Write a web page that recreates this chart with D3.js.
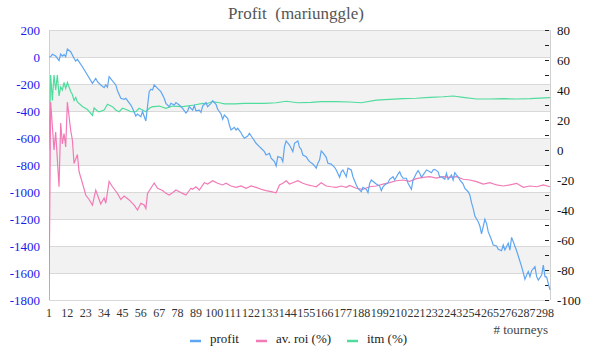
<!DOCTYPE html>
<html><head><meta charset="utf-8">
<script src="https://cdn.jsdelivr.net/npm/d3@7"></script>
<style>body{margin:0;background:#fff}svg{display:block}</style>
</head><body>
<svg id="c" width="600" height="360"></svg>
<script>
const title = "Profit  (mariunggle)";
const xTicks = [1,12,23,34,45,56,67,78,89,100,111,122,133,144,155,166,177,188,199,210,221,232,243,254,265,276,287,298];
const leftTicks = [200,0,-200,-400,-600,-800,-1000,-1200,-1400,-1600,-1800];
const rightTicks = [80,60,40,20,0,-20,-40,-60,-80,-100];
const seriesNames = ["profit","av. roi (%)","itm (%)"];

const profit = [[1,0],[2,2],[3,20],[5,7],[7,-27],[8,22],[9,7],[10,17],[11,2],[12,59],[14,39],[16,-10],[17,-30],[18,-17],[21,-72],[24,-133],[27,-195],[29,-158],[30,-183],[32,-207],[34,-227],[35,-207],[36,-224],[37,-146],[39,-176],[41,-207],[42,-250],[44,-306],[46,-313],[47,-306],[50,-356],[51,-380],[53,-437],[54,-422],[56,-442],[57,-405],[59,-474],[61,-257],[62,-239],[63,-244],[64,-207],[66,-232],[68,-257],[70,-306],[71,-343],[73,-368],[74,-343],[76,-356],[77,-338],[79,-356],[81,-380],[83,-415],[84,-400],[85,-368],[87,-393],[88,-360],[89,-398],[91,-393],[92,-410],[93,-363],[95,-338],[96,-368],[98,-343],[99,-324],[101,-350],[102,-387],[104,-422],[105,-461],[106,-430],[108,-454],[109,-504],[110,-541],[112,-521],[113,-541],[114,-528],[116,-561],[117,-585],[118,-602],[120,-585],[121,-565],[123,-602],[125,-639],[127,-664],[128,-676],[130,-701],[131,-726],[133,-713],[134,-750],[136,-775],[137,-807],[138,-738],[140,-746],[141,-775],[142,-664],[143,-622],[145,-652],[146,-676],[147,-701],[148,-639],[150,-622],[151,-669],[152,-684],[153,-726],[155,-738],[156,-758],[157,-775],[159,-793],[160,-807],[161,-824],[162,-787],[163,-763],[164,-696],[165,-709],[167,-743],[168,-787],[170,-793],[172,-817],[173,-837],[175,-891],[176,-850],[177,-837],[179,-887],[180,-824],[182,-837],[183,-887],[185,-948],[186,-973],[188,-998],[189,-965],[191,-980],[192,-1005],[193,-936],[194,-911],[196,-931],[197,-941],[199,-956],[200,-990],[201,-961],[202,-948],[204,-931],[205,-906],[207,-887],[208,-911],[210,-867],[211,-850],[212,-881],[213,-898],[215,-898],[216,-935],[218,-980],[219,-911],[221,-861],[222,-842],[223,-861],[224,-891],[226,-857],[227,-837],[228,-842],[230,-857],[231,-837],[232,-832],[234,-850],[235,-891],[236,-887],[238,-906],[239,-861],[240,-906],[242,-874],[243,-911],[244,-857],[245,-874],[246,-887],[247,-911],[249,-941],[250,-973],[252,-998],[253,-1022],[254,-1079],[255,-1121],[256,-1178],[258,-1220],[259,-1252],[260,-1311],[262,-1202],[263,-1232],[264,-1294],[266,-1356],[267,-1393],[269,-1400],[270,-1424],[272,-1435],[273,-1393],[274,-1430],[276,-1380],[277,-1430],[278,-1336],[279,-1368],[281,-1435],[282,-1474],[284,-1553],[285,-1598],[286,-1647],[287,-1615],[288,-1590],[289,-1627],[290,-1583],[292,-1553],[293,-1627],[294,-1652],[296,-1615],[297,-1541],[298,-1627],[299,-1630],[300,-1680],[301,-1725]];

const roi = [[1,-100],[2,32],[4,0],[5,12],[7,-24.5],[8,18],[9,4],[10,11],[11,2],[12,32],[14,13],[15,6.7],[16,-9],[18,-3],[19,-14.5],[21,-22],[23,-30],[25,-33],[27,-36.7],[29,-26.7],[31,-33],[32,-36],[34,-32],[35,-35.5],[37,-21],[39,-24.5],[42,-29],[44,-33],[46,-30.7],[49,-33.3],[52,-36.7],[54,-40],[56,-35.5],[58,-36.7],[59,-39],[60,-29],[62,-25.5],[64,-22],[66,-25.5],[69,-27],[71,-28.9],[73,-30],[75,-28.5],[77,-26.7],[79,-27.8],[81,-28.9],[83,-30],[84,-28.5],[86,-25.5],[87,-26.2],[89,-24.5],[91,-26.7],[94,-21.8],[96,-22.7],[99,-20.5],[102,-22.2],[105,-23.3],[107,-22.2],[110,-24],[113,-24.9],[116,-24],[119,-25.5],[122,-24],[125,-24.9],[128,-26.2],[131,-27.1],[134,-27.8],[137,-28.5],[139,-23.3],[141,-22.2],[143,-20.5],[145,-22.7],[147,-21.8],[150,-20.5],[153,-22.2],[156,-23.3],[159,-24],[161,-24.5],[164,-21.8],[167,-24],[170,-24.5],[173,-24.9],[176,-24],[179,-24.9],[181,-23.6],[185,-25.5],[189,-26.2],[193,-24.5],[197,-24],[201,-22.7],[205,-21.8],[209,-20.5],[213,-20],[217,-20.9],[221,-19.1],[225,-18.2],[229,-17.8],[233,-18.7],[237,-17.8],[241,-18.2],[245,-17.8],[249,-19.5],[253,-20],[257,-21.1],[261,-22.7],[265,-21.8],[269,-23.3],[273,-24],[277,-23.3],[281,-22.2],[285,-24.9],[289,-24],[293,-24.5],[297,-23.3],[301,-24.5]];

const itm = [[1,0],[2,50],[3,33],[4,50],[5,40],[6,50],[7,36],[8,42],[9,40],[10,45],[11,41],[12,45],[14,39],[15,37],[16,33],[17,35],[18,32],[21,29],[24,27],[27,23],[28,28],[30,26],[31,25.5],[34,26.7],[36,30.5],[39,28.9],[41,26.7],[43,25.5],[45,27.8],[48,26.7],[50,25.5],[53,25.5],[55,27.8],[57,26.7],[59,25.5],[61,27.8],[63,28.9],[64,28.9],[67,29.3],[71,27.8],[75,29.3],[81,28.9],[88,30],[93,31.1],[95,30.7],[99,32.3],[103,31.5],[106,30.7],[112,30.7],[118,31.1],[124,31.1],[130,31.1],[137,31.5],[143,32.5],[150,31.5],[158,31.8],[164,32.2],[173,32.2],[181,32],[188,31.5],[197,33.3],[205,33.8],[213,34.2],[221,34.5],[229,35.1],[237,35.5],[243,36],[249,35.1],[257,34],[265,34],[273,34.2],[281,34],[289,34.2],[301,34.9]];

const colors = ["#5fa6f2","#f27ab6","#4fdc9c"];

const svg = d3.select("#c");
const L = 49, R = 550, T = 30, B = 300;
const x = d3.scaleLinear().domain([1,301]).range([L,R]);
const yL = d3.scaleLinear().domain([-1800,200]).range([B,T]);
const yR = d3.scaleLinear().domain([-100,80]).range([B,T]);

// bands
const bands = leftTicks.slice(0,-1).map((v,i)=>({hi:v, lo:leftTicks[i+1], i}));
svg.append("g").selectAll("rect").data(bands.filter(d=>d.i%2===0)).join("rect")
  .attr("x",L).attr("width",R-L)
  .attr("y",d=>yL(d.hi)).attr("height",d=>yL(d.lo)-yL(d.hi))
  .attr("fill","#f2f2f2");
// grid
svg.append("g").selectAll("line").data(leftTicks).join("line")
  .attr("x1",L).attr("x2",R).attr("y1",d=>yL(d)+0.5).attr("y2",d=>yL(d)+0.5)
  .attr("stroke","#d9d9d9").attr("stroke-width",1);
// border verticals
svg.append("line").attr("x1",L+0.5).attr("x2",L+0.5).attr("y1",T).attr("y2",B)
  .attr("stroke","#d0d0d0");
svg.append("line").attr("x1",R+0.5).attr("x2",R+0.5).attr("y1",T).attr("y2",B)
  .attr("stroke","#d0d0d0");

// right ticks every 10 inside
const rMinor = d3.range(-100,81,10);
svg.append("g").selectAll("line").data(rMinor).join("line")
  .attr("x1",R-5).attr("x2",R-1).attr("y1",d=>yR(d)+0.5).attr("y2",d=>yR(d)+0.5)
  .attr("stroke","#222").attr("stroke-width",1);

// lines
const lineL = d3.line().x(d=>x(d[0])).y(d=>yL(d[1]));
const lineR = d3.line().x(d=>x(d[0])).y(d=>yR(d[1]));
const clip = svg.append("clipPath").attr("id","pc").append("rect")
  .attr("x",L).attr("y",T).attr("width",R-L+1).attr("height",B-T+1);
const g = svg.append("g").attr("clip-path","url(#pc)");
g.append("path").datum(itm).attr("d",lineR).attr("fill","none").attr("stroke",colors[2]).attr("stroke-width",1.2);
g.append("path").datum(roi).attr("d",lineR).attr("fill","none").attr("stroke",colors[1]).attr("stroke-width",1.2);
g.append("path").datum(profit).attr("d",lineL).attr("fill","none").attr("stroke",colors[0]).attr("stroke-width",1.2);

const serif = "'Liberation Serif','DejaVu Serif',serif";
// left labels
svg.append("g").selectAll("text").data(leftTicks).join("text")
  .attr("x",40).attr("y",d=>yL(d)).attr("dy","0.35em").attr("text-anchor","end")
  .attr("font-family",serif).attr("font-size",13).attr("fill","#1a1aee")
  .text(d=>d);
// right labels
svg.append("g").selectAll("text").data(rightTicks).join("text")
  .attr("x",557).attr("y",d=>yR(d)).attr("dy","0.35em").attr("text-anchor","start")
  .attr("font-family",serif).attr("font-size",13).attr("fill","#111")
  .text(d=>d);
// x labels
svg.append("g").selectAll("text").data(xTicks).join("text")
  .attr("x",d=>x(d)).attr("y",317).attr("text-anchor","middle")
  .attr("font-family",serif).attr("font-size",12).attr("fill","#333")
  .text(d=>d);
// x title
svg.append("text").attr("x",548).attr("y",334).attr("text-anchor","end")
  .attr("font-family",serif).attr("font-size",13).attr("fill","#444").text("# tourneys");
// title
svg.append("text").attr("x",296).attr("y",19).attr("text-anchor","middle")
  .attr("font-family",serif).attr("font-size",17).attr("fill","#555")
  .style("white-space","pre").attr("xml:space","preserve").text(title);

// legend
const legX = [190,256,347];
const lg = svg.append("g").selectAll("g").data(seriesNames).join("g")
  .attr("transform",(d,i)=>`translate(${legX[i]},341)`);
lg.append("line").attr("x1",0).attr("x2",11).attr("y1",0).attr("y2",0)
  .attr("stroke",(d,i)=>colors[i]).attr("stroke-width",2.5);
lg.append("text").attr("x",20).attr("y",2).attr("font-family",serif).attr("font-size",13)
  .attr("fill","#222").text(d=>d);
</script>
</body></html>
